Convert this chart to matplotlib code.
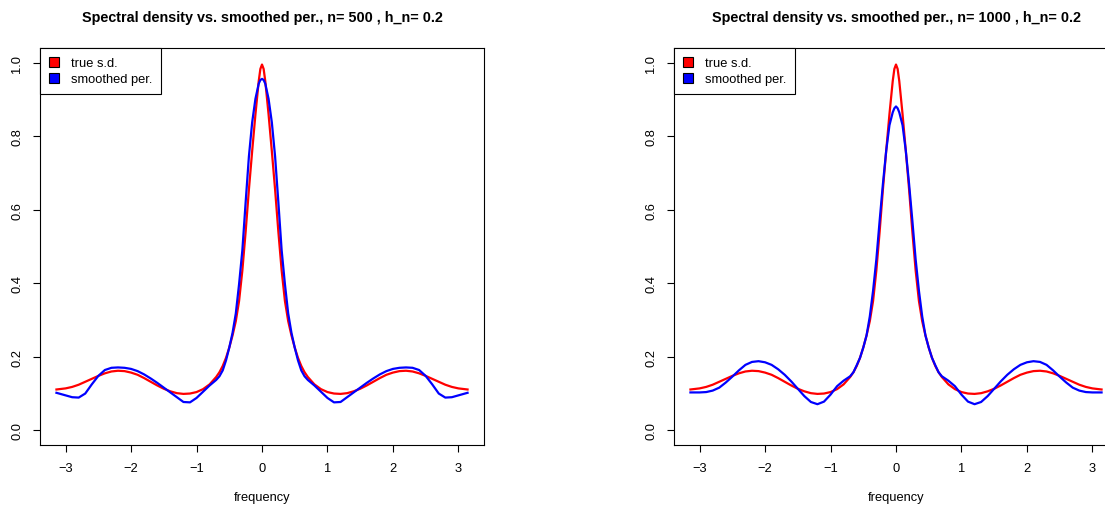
import numpy as np
import matplotlib
matplotlib.use("Agg")
import matplotlib.pyplot as plt
from matplotlib.patches import Patch

plt.rcParams['font.family'] = ['Liberation Sans', 'DejaVu Sans']

# frequency grid
freq = [-3.14, -3.0, -2.9, -2.8, -2.7, -2.6, -2.5, -2.4, -2.3, -2.2, -2.1, -2.0,
        -1.9, -1.8, -1.7, -1.6, -1.5, -1.4, -1.3, -1.2, -1.1, -1.0, -0.9, -0.8,
        -0.7, -0.65, -0.6, -0.55, -0.5, -0.45, -0.4, -0.35, -0.3, -0.25, -0.2,
        -0.15, -0.1, -0.05, -0.025, 0.0, 0.025, 0.05, 0.1, 0.15, 0.2, 0.25, 0.3,
        0.35, 0.4, 0.45, 0.5, 0.55, 0.6, 0.65, 0.7, 0.8, 0.9, 1.0, 1.1, 1.2, 1.3,
        1.4, 1.5, 1.6, 1.7, 1.8, 1.9, 2.0, 2.1, 2.2, 2.3, 2.4, 2.5, 2.6, 2.7, 2.8,
        2.9, 3.0, 3.14]

# true spectral density
true_sd = [0.111, 0.114, 0.118, 0.124, 0.132, 0.140, 0.148, 0.155, 0.160, 0.162,
           0.161, 0.157, 0.151, 0.142, 0.132, 0.122, 0.113, 0.106, 0.101, 0.099,
           0.100, 0.104, 0.112, 0.125, 0.145, 0.158, 0.175, 0.197, 0.225, 0.258,
           0.297, 0.352, 0.435, 0.540, 0.655, 0.760, 0.860, 0.950, 0.983, 0.995,
           0.983, 0.950, 0.860, 0.760, 0.655, 0.540, 0.435, 0.352, 0.297, 0.258,
           0.225, 0.197, 0.175, 0.158, 0.145, 0.125, 0.112, 0.104, 0.100, 0.099,
           0.101, 0.106, 0.113, 0.122, 0.132, 0.142, 0.151, 0.157, 0.161, 0.162,
           0.160, 0.155, 0.148, 0.140, 0.132, 0.124, 0.118, 0.114, 0.111]

# smoothed periodogram, n = 500
smooth_500 = [0.102, 0.095, 0.090, 0.089, 0.100, 0.125, 0.148, 0.164, 0.170, 0.171,
              0.170, 0.167, 0.161, 0.152, 0.141, 0.129, 0.116, 0.103, 0.090, 0.077,
              0.076, 0.088, 0.105, 0.122, 0.137, 0.147, 0.163, 0.190, 0.225, 0.265,
              0.318, 0.398, 0.490, 0.620, 0.745, 0.838, 0.902, 0.943, 0.953, 0.956,
              0.953, 0.943, 0.902, 0.838, 0.745, 0.620, 0.490, 0.398, 0.318, 0.265,
              0.225, 0.190, 0.163, 0.147, 0.137, 0.122, 0.105, 0.088, 0.076, 0.077,
              0.090, 0.103, 0.116, 0.129, 0.141, 0.152, 0.161, 0.167, 0.170, 0.171,
              0.170, 0.164, 0.148, 0.125, 0.100, 0.089, 0.090, 0.095, 0.102]

# smoothed periodogram, n = 1000
smooth_1000 = [0.103, 0.103, 0.104, 0.108, 0.116, 0.130, 0.146, 0.163, 0.178, 0.186,
               0.188, 0.185, 0.178, 0.166, 0.151, 0.133, 0.113, 0.093, 0.077, 0.071,
               0.078, 0.097, 0.120, 0.135, 0.147, 0.158, 0.177, 0.197, 0.225, 0.258,
               0.310, 0.380, 0.465, 0.570, 0.670, 0.760, 0.830, 0.865, 0.876, 0.881,
               0.876, 0.865, 0.830, 0.760, 0.670, 0.570, 0.465, 0.380, 0.310, 0.258,
               0.225, 0.197, 0.177, 0.158, 0.147, 0.135, 0.120, 0.097, 0.078, 0.071,
               0.077, 0.093, 0.113, 0.133, 0.151, 0.166, 0.178, 0.185, 0.188, 0.186,
               0.178, 0.163, 0.146, 0.130, 0.116, 0.108, 0.104, 0.103, 0.103]

sizes = [500, 1000]
h_n = 0.2
smoothed = [smooth_500, smooth_1000]
xticks = [-3, -2, -1, 0, 1, 2, 3]
yticks = [0.0, 0.2, 0.4, 0.6, 0.8, 1.0]

W, H = 1105, 506
fig = plt.figure(figsize=(W / 100, H / 100), dpi=100)

lefts = [40, 674]
for left, n, sm in zip(lefts, sizes, smoothed):
    ax = fig.add_axes([left / W, (H - 446) / H, 444 / W, 397 / H])
    ax.plot(freq, true_sd, color='#ff0000', lw=1.6)
    ax.plot(freq, sm, color='#0000ff', lw=1.6)
    ax.margins(x=0.04)
    ax.set_ylim(-0.04, 1.04)
    ax.set_xticks(xticks)
    ax.set_xticklabels([str(t).replace('-', '\u2212') for t in xticks])
    ax.set_yticks(yticks)
    ax.set_yticklabels(['%.1f' % t for t in yticks], rotation=90, va='center')
    ax.tick_params(direction='out', length=5, width=0.8, labelsize=9.3, pad=7)
    for s in ax.spines.values():
        s.set_linewidth(0.8)
    ax.set_xlabel('frequency', fontsize=9.3)
    ax.xaxis.set_label_coords(0.5, -0.115)
    ax.text(0.5, 1 + 31 / 397, 'Spectral density vs. smoothed per., n= %d , h_n= %s' % (n, h_n),
            transform=ax.transAxes, ha='center', va='center', fontsize=10.4, fontweight='bold')
    handles = [Patch(facecolor='#ff0000', edgecolor='black', lw=0.8),
               Patch(facecolor='#0000ff', edgecolor='black', lw=0.8)]
    leg = ax.legend(handles, ['true s.d.', 'smoothed per.'], loc='upper left',
                    bbox_to_anchor=(0, 1), borderaxespad=0, fancybox=False,
                    edgecolor='black', framealpha=1, fontsize=9.3,
                    handlelength=0.8, handleheight=0.8, handletextpad=0.9,
                    labelspacing=0.25, borderpad=0.7)
    leg.get_frame().set_linewidth(0.8)

fig.savefig('out.png', dpi=100)
